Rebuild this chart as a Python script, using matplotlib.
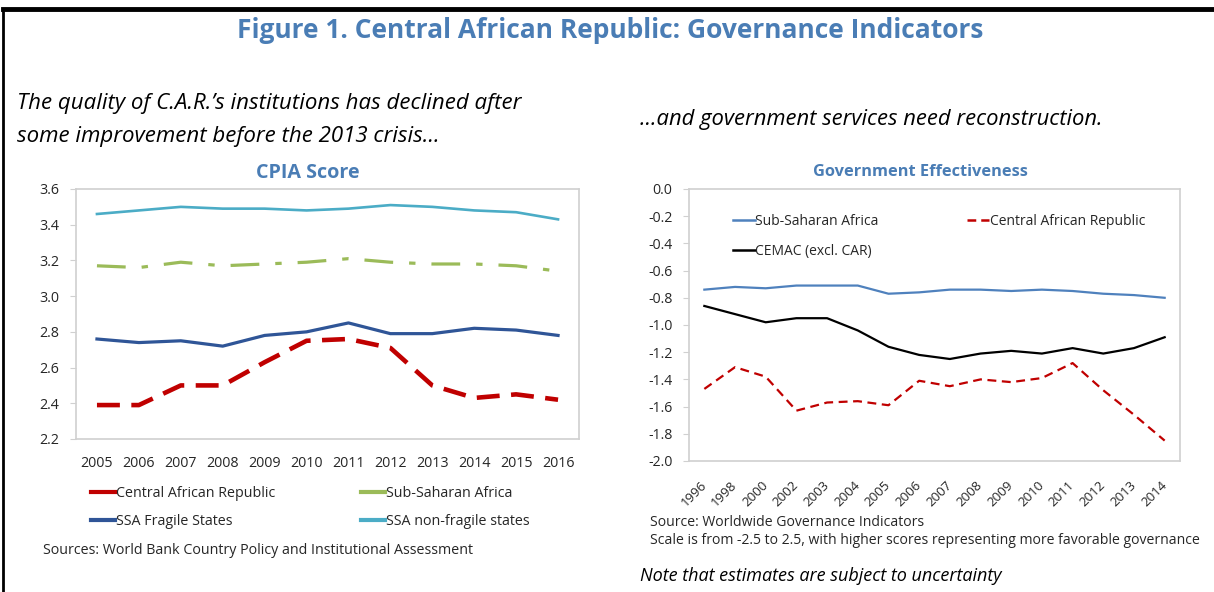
import matplotlib
matplotlib.use("Agg")
import matplotlib.pyplot as plt
from matplotlib.lines import Line2D

plt.rcParams['font.family'] = ['Open Sans', 'DejaVu Sans']

# ---- CPIA score data ----
cpia_years = ["2005", "2006", "2007", "2008", "2009", "2010",
              "2011", "2012", "2013", "2014", "2015", "2016"]
cpia_car = [2.39, 2.39, 2.50, 2.50, 2.63, 2.75, 2.76, 2.71, 2.50, 2.43, 2.45, 2.42]
cpia_ssa = [3.17, 3.16, 3.19, 3.17, 3.18, 3.19, 3.21, 3.19, 3.18, 3.18, 3.17, 3.14]
cpia_fragile = [2.76, 2.74, 2.75, 2.72, 2.78, 2.80, 2.85, 2.79, 2.79, 2.82, 2.81, 2.78]
cpia_nonfragile = [3.46, 3.48, 3.50, 3.49, 3.49, 3.48, 3.49, 3.51, 3.50, 3.48, 3.47, 3.43]

# ---- Government effectiveness data ----
ge_years = ["1996", "1998", "2000", "2002", "2003", "2004", "2005", "2006",
            "2007", "2008", "2009", "2010", "2011", "2012", "2013", "2014"]
ge_ssa = [-0.74, -0.72, -0.73, -0.71, -0.71, -0.71, -0.77, -0.76,
          -0.74, -0.74, -0.75, -0.74, -0.75, -0.77, -0.78, -0.80]
ge_car = [-1.47, -1.31, -1.38, -1.63, -1.57, -1.56, -1.59, -1.41,
          -1.45, -1.40, -1.42, -1.39, -1.28, -1.48, -1.66, -1.85]
ge_cemac = [-0.86, -0.92, -0.98, -0.95, -0.95, -1.04, -1.16, -1.22,
            -1.25, -1.21, -1.19, -1.21, -1.17, -1.21, -1.17, -1.09]

W, H = 1214, 592
fig = plt.figure(figsize=(W / 100, H / 100), dpi=100)

def fx(px):
    return px / W

def fy(py):
    return 1 - py / H

TITLE_BLUE = "#4a7db5"
RED = "#c00000"
GREEN = "#9bbb59"
DARK_BLUE = "#2f5597"
LIGHT_BLUE = "#4bacc6"
SSA_BLUE = "#4f81bd"
FRAME = "#d0d0d0"
TEXT = "#262626"

# frame lines around the figure (top and left)
fig.add_artist(Line2D([fx(2.5), 1.0], [fy(9), fy(9)], color="black", lw=3.5,
                      transform=fig.transFigure))
fig.add_artist(Line2D([fx(2.5), fx(2.5)], [fy(9), 0.0], color="black", lw=2,
                      transform=fig.transFigure))

fig.text(fx(610), fy(31), "Figure 1. Central African Republic: Governance Indicators",
         ha="center", va="center", fontsize=19, fontweight="bold", color=TITLE_BLUE)

fig.text(fx(17), fy(104), "The quality of C.A.R.\u2019s institutions has declined after",
         ha="left", va="center", fontsize=16, style="italic", color="black")
fig.text(fx(17), fy(137), "some improvement before the 2013 crisis...",
         ha="left", va="center", fontsize=16, style="italic", color="black")
fig.text(fx(640), fy(120), "...and government services need reconstruction.",
         ha="left", va="center", fontsize=15.8, style="italic", color="black")

# ---- left panel: CPIA ----
ax1 = fig.add_axes([fx(76), fy(439), fx(579) - fx(76), (439 - 189) / H])
x1 = range(len(cpia_years))
ax1.plot(x1, cpia_nonfragile, color=LIGHT_BLUE, lw=1.9)
ax1.plot(x1, cpia_ssa, color=GREEN, lw=2.3, dashes=(9, 5, 2, 5))
ax1.plot(x1, cpia_fragile, color=DARK_BLUE, lw=2.3)
ax1.plot(x1, cpia_car, color=RED, lw=3.3, dashes=(5, 2.5))
ax1.set_xlim(-0.5, len(cpia_years) - 0.5)
ax1.set_ylim(2.2, 3.6)
yt1 = [2.2, 2.4, 2.6, 2.8, 3.0, 3.2, 3.4, 3.6]
ax1.set_yticks(yt1)
ax1.set_yticklabels([f"{v:.1f}" for v in yt1])
ax1.set_xticks(list(x1))
ax1.set_xticklabels(cpia_years)
ax1.tick_params(axis="x", length=0, pad=12, labelsize=10.3, labelcolor=TEXT)
ax1.tick_params(axis="y", length=4, color=FRAME, pad=8, labelsize=10.3, labelcolor=TEXT)
for s in ax1.spines.values():
    s.set_color(FRAME)
    s.set_linewidth(1.2)
fig.text(fx(308), fy(173), "CPIA Score", ha="center", va="center",
         fontsize=14.2, fontweight="bold", color=TITLE_BLUE)

h1 = [Line2D([], [], color=RED, lw=3), Line2D([], [], color=DARK_BLUE, lw=3),
      Line2D([], [], color=GREEN, lw=3), Line2D([], [], color=LIGHT_BLUE, lw=3)]
l1 = ["Central African Republic", "SSA Fragile States",
      "Sub-Saharan Africa", "SSA non-fragile states"]
fig.legend(h1, l1, ncol=2, loc="upper left", bbox_to_anchor=(fx(91), fy(486)),
           borderpad=0, borderaxespad=0, frameon=False, fontsize=10.3,
           handlelength=1.7, handletextpad=0.05, columnspacing=6.0,
           labelspacing=0.9, labelcolor=TEXT)
fig.text(fx(43), fy(550), "Sources: World Bank Country Policy and Institutional Assessment",
         ha="left", va="center", fontsize=10.3, color=TEXT)

# ---- right panel: Government effectiveness ----
ax2 = fig.add_axes([fx(689), fy(461), fx(1180) - fx(689), (461 - 189) / H])
x2 = range(len(ge_years))
ax2.plot(x2, ge_ssa, color=SSA_BLUE, lw=1.6)
ax2.plot(x2, ge_cemac, color="black", lw=1.6)
ax2.plot(x2, ge_car, color=RED, lw=1.6, dashes=(4, 2.5))
ax2.set_xlim(-0.5, len(ge_years) - 0.5)
ax2.set_ylim(-2.0, 0.0)
yt2 = [-2.0, -1.8, -1.6, -1.4, -1.2, -1.0, -0.8, -0.6, -0.4, -0.2, 0.0]
ax2.set_yticks(yt2)
ax2.set_yticklabels([f"{v:.1f}" for v in yt2])
ax2.set_xticks(list(x2))
ax2.set_xticklabels(ge_years, rotation=45, ha="right", va="center",
                    rotation_mode="anchor")
ax2.tick_params(axis="x", length=0, pad=16, labelsize=9.5, labelcolor=TEXT)
ax2.tick_params(axis="y", length=4, color=FRAME, pad=8, labelsize=10.2, labelcolor=TEXT)
for s in ax2.spines.values():
    s.set_color(FRAME)
    s.set_linewidth(1.2)
fig.text(fx(920), fy(172), "Government Effectiveness", ha="center", va="center",
         fontsize=11.8, fontweight="bold", color=TITLE_BLUE)

h2 = [Line2D([], [], color=SSA_BLUE, lw=1.8), Line2D([], [], color="black", lw=1.8),
      Line2D([], [], color=RED, lw=1.8, dashes=(3.5, 2))]
l2 = ["Sub-Saharan Africa", "CEMAC (excl. CAR)", "Central African Republic"]
fig.legend(h2, l2, ncol=2, loc="upper left", bbox_to_anchor=(fx(733), fy(214)),
           borderpad=0, borderaxespad=0, frameon=False, fontsize=10,
           handlelength=1.55, handletextpad=0.05, columnspacing=6.4,
           labelspacing=1.05, labelcolor=TEXT)

fig.text(fx(650), fy(523), "Source: Worldwide Governance Indicators",
         ha="left", va="center", fontsize=10.1, color=TEXT)
fig.text(fx(650), fy(541),
         "Scale is from -2.5 to 2.5, with higher scores representing more favorable governance",
         ha="left", va="center", fontsize=10.1, color=TEXT)
fig.text(fx(640), fy(576), "Note that estimates are subject to uncertainty",
         ha="left", va="center", fontsize=13, style="italic", color="black")

fig.savefig("out.png", dpi=100, facecolor="white")
